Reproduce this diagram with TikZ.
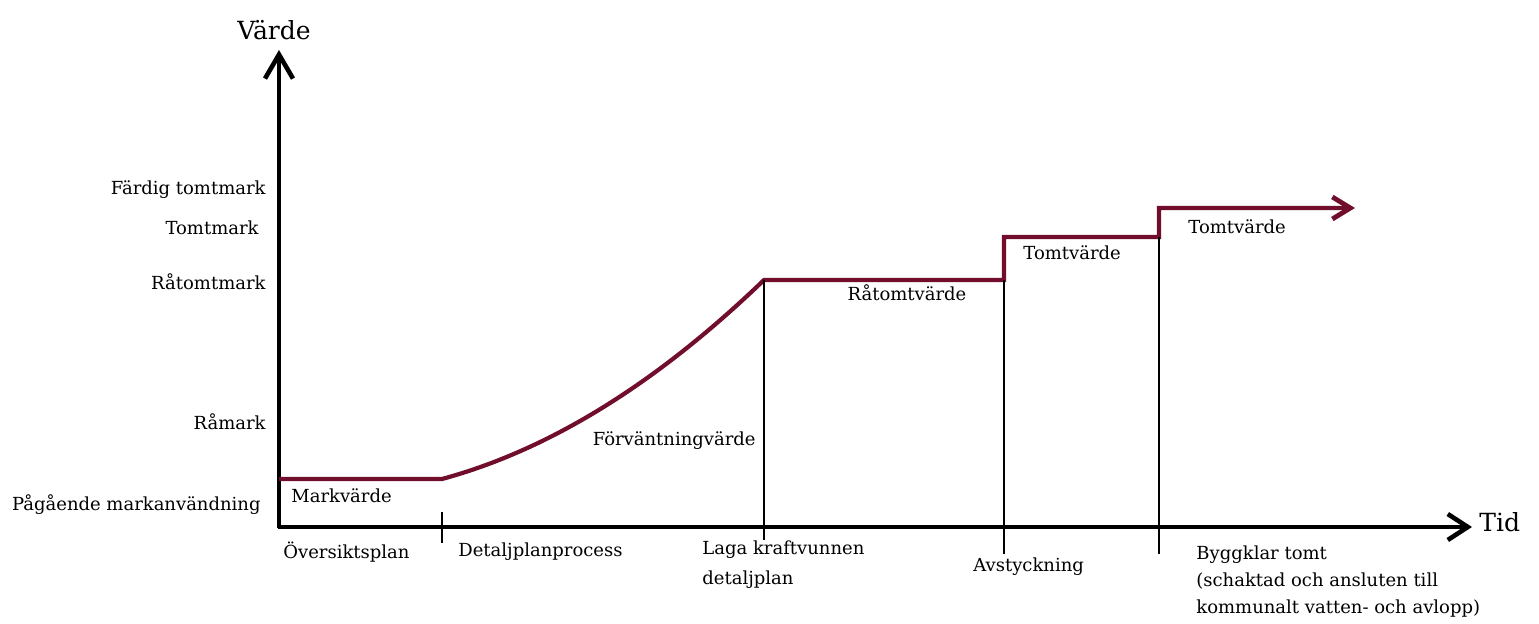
\documentclass[tikz,border=0pt]{standalone}
\usepackage{fontspec}
\setmainfont{DejaVu Serif}
\usetikzlibrary{arrows.meta}

\definecolor{valuered}{RGB}{112,14,44}

\def\axisY{527}
\def\axisX{279}

\tikzset{
    axis/.style = {line width = 2.3pt, line cap = butt},
    valueline/.style = {line width = 2.1pt, valuered, line join = miter},
    guide/.style = {line width = 0.7pt},
    lbl/.style = {inner sep = 0pt, font = \fontsize{9}{14}\selectfont},
    big/.style = {inner sep = 0pt, font = \fontsize{12.5}{14}\selectfont},
}

\begin{document}
\begin{tikzpicture}[x = 0.5pt, y = -0.5pt]
            \useasboundingbox (0,0) rectangle (1539,624);

            %% axes
            \coordinate (origin) at (\axisX, \axisY);
            \coordinate (ytop) at (\axisX, 50);
            \coordinate (xend) at (1472, \axisY);
            \draw [axis, -{Straight Barb[length = 12pt, width = 14pt]}]
            (origin) ++(0, 1.1) -- (ytop)
            ;
            \draw [axis, -{Straight Barb[length = 10pt, width = 13pt]}]
            (origin) ++(-1.1, 0) -- (xend)
            ;
            \node [big] (vardelabel) at (274, 30) {Värde};
            \node [big, anchor = west] (tidlabel) at (1479, 522) {Tid};

            %% value curve
            \coordinate (mark0) at (\axisX, 479);
            \coordinate (mark1) at (442, 479);
            \coordinate (rat0) at (764, 280);
            \coordinate (rat1) at (1004, 280);
            \coordinate (tomt0) at (1004, 237);
            \coordinate (tomt1) at (1159, 237);
            \coordinate (bygg0) at (1159, 208);
            \coordinate (bygg1) at (1355, 208);
            \draw [valueline, -{Straight Barb[length = 9pt, width = 11pt, line width = 2.4pt]}]
            (mark0) -- (mark1)
            .. controls (549, 450) and (656, 384) .. (rat0)
            -- (rat1) -- (tomt0) -- (tomt1) -- (bygg0) -- (bygg1)
            ;

            %% guides down to the time axis
            \draw [guide] (mark1) ++(0, 33) -- ++(0, 31);
            \draw [guide] (rat0) -- (764, 540);
            \draw [guide] (rat1) -- (1004, 554);
            \draw [guide] (tomt1) -- (1159, 554);

            %% value levels
            \node [lbl, anchor = east] (fardig) at (266, 190) {Färdig tomtmark};
            \node [lbl, anchor = east] (tomtmark) at (259, 228) {Tomtmark};
            \node [lbl, anchor = east] (ratomtmark) at (266, 282) {Råtomtmark};
            \node [lbl, anchor = east] (ramark) at (266, 422) {Råmark};
            \node [lbl, anchor = east] (pagaende) at (261, 505) {Pågående markanvändning};

            %% values along the curve
            \node [lbl, anchor = west] (markvarde) at (291, 496) {Markvärde};
            \node [lbl, anchor = east] (forvantning) at (756, 441) {Förväntningvärde};
            \node [lbl] (ratomtvarde) at (907, 293) {Råtomtvärde};
            \node [lbl, anchor = west] (tomtvarde1) at (1023, 253) {Tomtvärde};
            \node [lbl, anchor = west] (tomtvarde2) at (1188, 227) {Tomtvärde};

            %% phases
            \node [lbl, anchor = west] (oversikt) at (283, 552) {Översiktsplan};
            \node [lbl, anchor = west] (detaljprocess) at (458, 552) {Detaljplanprocess};
            \node [lbl, anchor = north west, align = left, font = \fontsize{9}{15}\selectfont]
            (laga) at (702, 540)
            {Laga kraftvunnen\\detaljplan};
            \node [lbl, anchor = west] (avstyckning) at (973, 567) {Avstyckning};
            \node [lbl, anchor = north west, align = left, font = \fontsize{9}{13.5}\selectfont]
            (byggklar) at (1196, 545)
            {Byggklar tomt\\(schaktad och ansluten till\\kommunalt vatten- och avlopp)};
        \end{tikzpicture}
\end{document}
